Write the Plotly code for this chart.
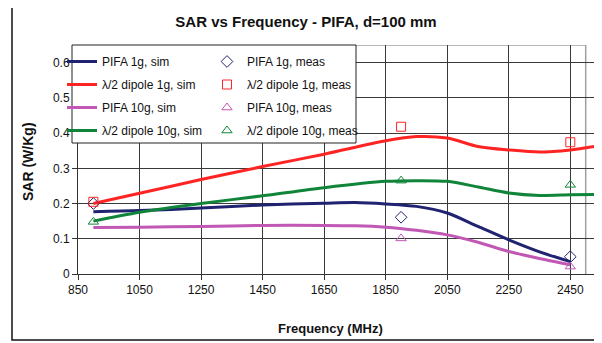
import plotly.graph_objects as go

# ---- data ----
sim_freq = [900, 1050, 1250, 1450, 1650, 1750, 1850, 1950, 2050, 2150, 2250, 2350, 2450]
pifa_1g_sim = [0.177, 0.180, 0.187, 0.196, 0.201, 0.203, 0.199, 0.192, 0.173, 0.135, 0.097, 0.063, 0.035]
pifa_10g_sim = [0.132, 0.133, 0.135, 0.138, 0.138, 0.137, 0.133, 0.124, 0.111, 0.090, 0.064, 0.044, 0.026]

dip_freq = [900, 1050, 1250, 1450, 1650, 1850, 1950, 2050, 2150, 2250, 2350, 2450, 2527]
dipole_1g_sim = [0.200, 0.229, 0.268, 0.305, 0.340, 0.378, 0.390, 0.386, 0.362, 0.352, 0.346, 0.352, 0.362]
dipole_10g_sim = [0.150, 0.175, 0.200, 0.222, 0.245, 0.263, 0.265, 0.263, 0.247, 0.230, 0.223, 0.225, 0.226]

meas_freq = [900, 1900, 2450]
pifa_1g_meas = [0.200, 0.161, 0.049]
dipole_1g_meas = [0.205, 0.418, 0.374]
pifa_10g_meas_freq = [1900, 2450]
pifa_10g_meas = [0.101, 0.021]
dipole_10g_meas = [0.148, 0.265, 0.253]

x_ticks = [850, 1050, 1250, 1450, 1650, 1850, 2050, 2250, 2450]
y_ticks = [0, 0.1, 0.2, 0.3, 0.4, 0.5, 0.6]

NAVY = "#1f2370"
RED = "#ff2424"
MAG = "#c058b4"
GREEN = "#10853a"
FONT = "Arial, Liberation Sans, sans-serif"

fig = go.Figure()

def sim(x, y, name, color, grp):
    fig.add_trace(go.Scatter(x=x, y=y, mode="lines", name=name,
                             line=dict(color=color, width=3, shape="spline", smoothing=0.8),
                             legend="legend", legendgroup=grp))

def meas(x, y, name, color, symbol, grp):
    fig.add_trace(go.Scatter(x=x, y=y, mode="markers", name=name,
                             marker=dict(symbol=symbol, size=9, color=color,
                                         line=dict(color=color, width=1)),
                             legend="legend2", legendgroup=grp))

sim(sim_freq, pifa_1g_sim, "PIFA 1g, sim", NAVY, "a")
sim(dip_freq, dipole_1g_sim, "λ/2 dipole 1g, sim", RED, "b")
sim(sim_freq, pifa_10g_sim, "PIFA 10g, sim", MAG, "c")
sim(dip_freq, dipole_10g_sim, "λ/2 dipole 10g, sim", GREEN, "d")

meas(meas_freq, pifa_1g_meas, "PIFA 1g, meas", NAVY, "diamond-open", "e")
meas(meas_freq, dipole_1g_meas, "λ/2 dipole 1g, meas", RED, "square-open", "f")
meas(pifa_10g_meas_freq, pifa_10g_meas, "PIFA 10g, meas", MAG, "triangle-up-open", "g")
meas(meas_freq, dipole_10g_meas, "λ/2 dipole 10g, meas", GREEN, "triangle-up-open", "h")

# page body has an 8px margin, so the figure is 8px smaller and shifted
W, H = 594, 335
L, R, T, B = 70, 8, 37, 69
PW, PH = W - L - R, H - T - B

def px(xp):
    return (xp - L) / PW

def py(yp):
    return (H - B - yp) / PH

legend_common = dict(
    orientation="v", traceorder="grouped", tracegroupgap=4,
    bgcolor="rgba(0,0,0,0)", borderwidth=0,
    font=dict(family=FONT, size=12, color="#111"),
    xref="container", yref="container", yanchor="top", xanchor="left",
    itemwidth=30,
)

fig.update_layout(
    width=W, height=H,
    paper_bgcolor="white", plot_bgcolor="white",
    margin=dict(l=L, r=R, t=T, b=B, autoexpand=False),
    font=dict(family=FONT, size=12, color="#111"),
    title=dict(text="<b>SAR vs Frequency - PIFA, d=100 mm</b>",
               x=298 / W, xanchor="center", y=1 - 14 / H, yanchor="middle",
               font=dict(size=15, family=FONT, color="#111")),
    legend=dict(legend_common, x=54 / W, y=1 - 39 / H),
    legend2=dict(legend_common, x=199 / W, y=1 - 39 / H),
    showlegend=True,
    xaxis=dict(range=[850, 2527], tickvals=x_ticks, ticks="outside", ticklen=5,
               tickcolor="#333", showgrid=True, gridcolor="#3a3a3a", gridwidth=1,
               showline=True, linecolor="#333", linewidth=1, zeroline=False,
               tickfont=dict(size=12, family=FONT)),
    yaxis=dict(range=[0, 0.65], tickvals=y_ticks, ticks="outside", ticklen=5,
               tickcolor="#333", showgrid=True, gridcolor="#3a3a3a", gridwidth=1,
               showline=True, linecolor="#333", linewidth=1, zeroline=False,
               tickfont=dict(size=12, family=FONT)),
    annotations=[
        dict(text="<b>Frequency (MHz)</b>", xref="paper", yref="paper",
             x=px(322), y=py(320), showarrow=False, xanchor="center", yanchor="middle",
             font=dict(size=13, family=FONT, color="#111")),
        dict(text="<b>SAR (W/Kg)</b>", xref="paper", yref="paper", textangle=-90,
             x=px(20), y=py(154), showarrow=False, xanchor="center", yanchor="middle",
             font=dict(size=14, family=FONT, color="#111")),
    ],
    shapes=[
        # plot area right/top borders (gray)
        dict(type="line", xref="x", yref="y", x0=2500, x1=2500, y0=0, y1=0.65,
             line=dict(color="#a0a0a0", width=1.5), layer="below"),
        dict(type="line", xref="x", yref="y", x0=850, x1=2500, y0=0.65, y1=0.65,
             line=dict(color="#a0a0a0", width=1.5), layer="below"),
        # legend box
        dict(type="rect", xref="paper", yref="paper",
             x0=px(64), x1=px(348), y0=py(135), y1=py(37),
             fillcolor="white", line=dict(color="#222", width=1), layer="above"),
        # outer chart border (top edge lies above the page)
        dict(type="rect", xref="paper", yref="paper",
             x0=px(4), x1=px(W + 10), y0=py(332), y1=py(-20),
             line=dict(color="#111", width=1.5), layer="above"),
    ],
)

fig.write_html("out.html")
